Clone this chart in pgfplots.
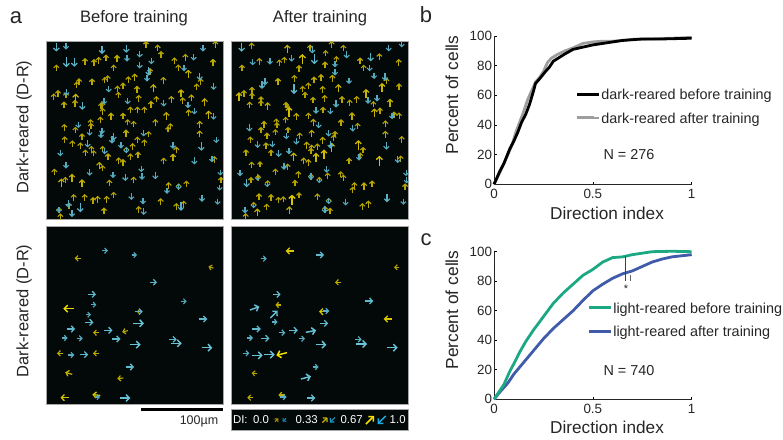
\documentclass[border=0pt]{standalone}
\usepackage{pgfplots}
\pgfplotsset{compat=1.18}
\usepackage{pgfplotstable}
\usepackage{fontspec}
\setmainfont{Liberation Sans}
\usetikzlibrary{arrows.meta}
\definecolor{panelbg}{HTML}{030909}
\definecolor{txt}{HTML}{262626}
\definecolor{grn}{HTML}{1DA884}
\definecolor{blu}{HTML}{3F5BA9}
\definecolor{ya}{HTML}{A89800}
\definecolor{yb}{HTML}{F5E000}
\definecolor{ca}{HTML}{4FA5B8}
\definecolor{cb}{HTML}{6CC7DC}
\definecolor{yc}{HTML}{B09E00}
\definecolor{yd}{HTML}{F7E100}
\definecolor{cc}{HTML}{1590BC}
\definecolor{cd}{HTML}{18AEE0}
\pgfplotsset{
 colormap={yel}{color=(ya) color=(yb)},
 colormap={cya}{color=(ca) color=(cb)},
 colormap={yelb}{color=(yc) color=(yd)},
 colormap={cyab}{color=(cc) color=(cd)},
 arrowpanel/.style={scale only axis,anchor=south west,axis background/.style={fill=panelbg},
   ticks=none,axis line style={draw=black!35,line width=0.6pt},y dir=reverse,clip=true,
   point meta min=12,point meta max=34},
 qa/.style={quiver/every arrow/.append style={line width=1.0pt+0.5pt*\pgfplotspointmetatransformed/1000,
   -{Straight Barb[length=0pt 2.3,width=0pt 4.8]},draw=mapped color}},
 cdf/.style={scale only axis,anchor=south west,width=197.7pt,xmin=0,xmax=1,ymin=0,ymax=100,
   axis lines=left,axis line style={-,line width=0.9pt,draw=black!85},
   xtick={0,0.5,1},xticklabels={0,0.5,1},ytick={0,20,40,60,80,100},
   tick align=inside,major tick length=2.5pt,tick style={line width=0.7pt,black},
   tick label style={font=\fontsize{13.4}{15}\selectfont,text=txt},
   /pgf/number format/assume math mode=true,
   xticklabel style={yshift=-1pt},yticklabel style={xshift=1.5pt},
   clip=false,
   legend cell align=left,reverse legend,
   legend image code/.code={\draw[##1,line width=3pt] (0pt,0pt) -- (16.6pt,0pt);\path (0pt,0pt) -- (22pt,0pt);},
   legend style={draw=none,fill=none,inner sep=0pt,anchor=north west,
     font=\fontsize{14.4}{16}\selectfont,text=txt,row sep=12pt,
     nodes={inner sep=0.5pt,text depth=0pt}}},
}
\pgfplotstableread{
x y l
437 133 16
472 144 16
482 163 16
645 133 16
350 176 18
317 174 16
295 181 16
281 187 16
254 184 16
522 183 17
555 172 16
638 188 18
168 204 16
340 204 16
534 203 15
564 222 20
449 214 16
403 232 18
384 239 16
322 236 16
313 241 15
236 245 16
229 255 16
275 246 17
489 241 16
601 245 16
589 260 15
459 265 20
542 280 20
410 268 17
351 267 16
368 257 15
354 285 15
173 280 16
160 290 15
197 286 15
226 295 22
224 310 17
191 315 17
415 295 16
468 298 15
452 313 17
513 298 16
547 302 16
573 294 17
613 307 20
306 315 16
302 317 15
307 334 16
390 330 16
411 330 16
432 330 16
332 349 18
368 348 16
300 360 16
271 367 15
272 378 15
382 367 15
400 372 15
465 368 17
498 348 19
565 339 17
625 345 21
598 373 17
510 379 15
503 388 15
192 382 16
225 390 15
245 410 16
193 419 16
216 431 16
240 437 16
255 458 15
273 447 15
280 460 15
323 470 17
307 447 15
377 400 18
397 440 17
411 420 16
432 428 16
445 403 15
378 450 15
390 470 16
413 465 17
355 482 16
368 488 18
297 497 18
307 505 15
490 483 16
518 472 18
528 450 16
598 402 17
642 478 16
162 516 16
183 548 20
195 540 15
215 533 19
245 550 20
327 549 16
400 540 16
505 557 17
535 560 16
558 551 15
220 592 16
253 592 16
278 601 16
292 598 17
319 598 17
340 585 15
206 617 16
481 605 17
528 619 16
550 612 16
311 632 16
415 628 16
662 540 16
176 630 14
180 650 16
}\tblaY
\pgfplotstableread{
x y l
168 142 21
197 139 16
305 150 20
378 147 19
418 163 16
453 183 16
380 176 15
608 145 16
580 172 16
198 187 24
222 187 22
418 196 16
445 215 20
551 205 15
440 235 16
598 230 18
640 260 16
198 278 16
325 268 15
382 303 16
311 305 15
246 318 19
490 310 16
563 315 16
582 334 15
640 350 15
234 375 15
268 398 15
305 393 15
302 405 15
340 410 18
335 420 18
430 400 15
648 420 15
518 437 16
603 440 20
262 432 17
180 459 16
313 453 16
362 436 16
378 450 16
197 496 16
582 483 17
635 478 15
268 518 15
338 525 15
375 532 18
423 507 15
425 530 15
465 527 17
660 518 14
658 563 14
500 572 15
393 590 16
428 603 16
605 595 17
652 605 15
204 612 17
240 623 22
215 640 18
430 635 16
542 620 20
535 560 15
176 630 14
}\tblaC
\pgfplotstableread{
x y l
80 138 16
187 147 20
255 144 16
320 133 16
355 144 15
302 160 15
103 184 16
163 188 15
178 180 15
232 178 25
334 178 15
405 183 17
463 170 16
521 188 17
51 204 16
222 205 16
300 195 17
416 204 15
208 235 16
267 240 17
288 233 17
322 235 17
159 245 18
250 257 15
233 267 15
240 285 15
293 268 16
340 265 20
471 262 21
522 260 16
484 243 16
423 280 21
42 290 21
57 280 16
81 270 15
81 287 15
108 298 15
108 310 15
74 315 16
128 318 18
264 300 15
299 295 16
351 298 16
374 308 15
395 298 16
445 313 15
495 308 19
183 315 15
192 335 24
187 322 15
214 350 18
250 348 16
294 330 15
381 348 18
448 338 20
465 332 15
507 345 17
522 347 15
182 360 15
154 365 15
117 373 17
108 390 15
156 376 15
151 397 15
189 390 15
126 408 17
76 419 15
265 367 17
348 368 17
398 378 15
481 372 17
481 403 17
530 418 16
260 400 17
224 407 15
293 421 17
330 402 15
326 413 15
245 436 18
260 445 18
277 440 16
258 453 16
320 442 22
400 435 23
414 450 15
406 467 15
138 458 15
123 437 16
63 458 16
206 470 20
273 472 22
297 463 23
236 483 17
250 488 17
372 483 16
463 483 25
80 495 16
105 493 15
151 515 15
188 500 15
220 523 16
308 527 15
347 523 15
355 533 15
527 476 15
78 540 15
100 533 15
128 550 15
210 549 16
258 530 15
283 540 15
388 557 17
383 570 16
417 558 18
441 551 16
540 560 16
102 590 17
138 592 16
160 600 15
175 598 15
201 600 26
222 586 15
277 590 16
311 603 15
125 621 16
193 630 18
97 637 19
62 650 17
412 619 16
430 612 17
86 615 15
315 632 15
300 628 16
}\tblbY
\pgfplotstableread{
x y l
50 142 22
262 150 17
365 165 17
491 145 15
530 133 15
83 187 15
135 185 15
200 176 15
268 178 24
330 193 15
437 172 20
434 204 16
447 228 15
330 217 16
480 232 18
372 243 15
120 245 18
111 256 18
207 268 23
429 302 16
456 295 16
333 312 18
273 332 16
316 333 16
501 348 16
73 384 17
281 375 16
383 385 16
184 408 16
98 434 16
142 432 16
214 424 16
311 400 16
316 435 17
161 460 18
192 453 16
484 438 18
402 472 16
518 478 18
45 519 16
177 499 17
305 509 15
65 549 20
98 533 15
127 552 15
258 530 15
283 540 15
543 519 15
545 541 15
486 595 19
535 605 15
362 607 15
311 603 15
60 630 16
86 615 15
299 628 18
}\tblbC
\pgfplotstableread{
x y l u v
232 115 18 -18 0
632 142 16 -15 -5
205 266 32 -32 0
287 338 18 -18 0
374 334 18 -17 4
179 400 18 -18 0
287 400 18 -18 0
205 460 22 -21 -6
360 475 18 -18 2
193 533 25 -25 0
288 525 25 -24 -3
417 275 15 -15 0
}\tblcY
\pgfplotstableread{
x y l u v
314 92 18 18 0
402 105 16 16 0
459 187 22 22 0
275 223 24 24 0
280 254 16 16 0
551 244 16 16 0
264 284 16 16 0
416 275 22 22 0
609 297 24 24 0
415 310 32 32 0
267 307 25 25 0
212 327 25 25 0
324 331 25 25 0
193 354 18 18 0
238 355 18 18 0
348 357 25 25 0
405 374 32 32 0
518 358 22 22 0
528 370 32 32 0
620 383 32 32 0
213 405 18 18 0
251 404 25 25 0
389 441 25 25 0
292 531 15 15 0
375 534 30 30 0
}\tblcC
\pgfplotstableread{
x y l u v
195 93 26 -26 0
515 142 16 -16 0
339 187 18 -18 0
160 255 18 -18 0
295 275 26 -26 0
489 297 26 -26 0
170 402 34 -32 8
88 460 16 -16 -2
76 533 18 -18 0
170 525 20 -20 0
}\tbldY
\pgfplotstableread{
x y l u v
116 116 18 18 0
285 105 24 24 0
155 223 24 24 0
433 243 24 24 0
89 265 30 28 -10
303 273 20 20 0
147 283 30 22 -22
149 306 18 18 0
297 310 25 25 0
95 327 25 25 0
75 354 18 18 0
121 355 25 25 0
171 338 20 20 0
206 331 25 25 0
258 334 32 31 -6
231 356 18 18 0
288 374 32 32 0
400 358 20 20 0
410 372 32 32 0
502 383 32 32 0
64 400 18 18 0
97 406 32 32 0
133 404 32 32 0
272 441 18 18 0
243 473 32 30 -8
175 531 20 20 0
258 534 26 26 0
}\tbldC
\pgfplotstableread{
x y l u v
155 600 12 10 -10
300 600 20 15 -15
435 600 34 24 -24
}\tbleY
\pgfplotstableread{
x y l u v
178 600 12 -10 10
322 600 20 -15 15
470 600 34 -24 24
}\tbleC
\begin{document}
\begin{tikzpicture}[x=1pt,y=1pt]
\path[use as bounding box] (0,0) rectangle (783,439);
% ---------- panel a: upper
\begin{axis}[arrowpanel,at={(46pt,220pt)},width=177pt,height=177.5pt,xmin=137,xmax=668,ymin=125,ymax=657]
\addplot[colormap name=yel,qa,quiver={u=0,v=-1.25*\thisrow{l}},point meta=\thisrow{l}] table[x=x,y expr=\thisrow{y}+0.625*\thisrow{l}] {\tblaY};
\addplot[colormap name=cya,qa,quiver={u=0,v=1.25*\thisrow{l}},point meta=\thisrow{l}] table[x=x,y expr=\thisrow{y}-0.625*\thisrow{l}] {\tblaC};
\end{axis}
\begin{axis}[arrowpanel,at={(231.3pt,220pt)},width=177.4pt,height=177.5pt,xmin=19,xmax=551,ymin=125,ymax=657]
\addplot[colormap name=yel,qa,quiver={u=0,v=-1.25*\thisrow{l}},point meta=\thisrow{l}] table[x=x,y expr=\thisrow{y}+0.625*\thisrow{l}] {\tblbY};
\addplot[colormap name=cya,qa,quiver={u=0,v=1.25*\thisrow{l}},point meta=\thisrow{l}] table[x=x,y expr=\thisrow{y}-0.625*\thisrow{l}] {\tblbC};
\end{axis}
% ---------- panel a: lower
\begin{axis}[arrowpanel,at={(46pt,35pt)},width=177pt,height=177.7pt,xmin=137,xmax=668,ymin=19,ymax=552]
\addplot[colormap name=yel,qa,quiver={u=\thisrow{u},v=\thisrow{v}},point meta=\thisrow{l}] table[x expr=\thisrow{x}-\thisrow{u}/2,y expr=\thisrow{y}-\thisrow{v}/2] {\tblcY};
\addplot[colormap name=cya,qa,quiver={u=\thisrow{u},v=\thisrow{v}},point meta=\thisrow{l}] table[x expr=\thisrow{x}-\thisrow{u}/2,y expr=\thisrow{y}-\thisrow{v}/2] {\tblcC};
\end{axis}
\begin{axis}[arrowpanel,at={(231.3pt,35pt)},width=177.4pt,height=177.7pt,xmin=19,xmax=551,ymin=19,ymax=552]
\addplot[colormap name=yel,qa,quiver={u=\thisrow{u},v=\thisrow{v}},point meta=\thisrow{l}] table[x expr=\thisrow{x}-\thisrow{u}/2,y expr=\thisrow{y}-\thisrow{v}/2] {\tbldY};
\addplot[colormap name=cya,qa,quiver={u=\thisrow{u},v=\thisrow{v}},point meta=\thisrow{l}] table[x expr=\thisrow{x}-\thisrow{u}/2,y expr=\thisrow{y}-\thisrow{v}/2] {\tbldC};
\end{axis}
% ---------- DI key
\begin{axis}[arrowpanel,at={(231.3pt,8.3pt)},width=176.7pt,height=21.7pt,xmin=19,xmax=549,ymin=567,ymax=632]
\addplot[colormap name=yelb,qa,quiver={u=\thisrow{u},v=\thisrow{v}},point meta=\thisrow{l}] table[x expr=\thisrow{x}-\thisrow{u}/2,y expr=\thisrow{y}-\thisrow{v}/2] {\tbleY};
\addplot[colormap name=cyab,qa,quiver={u=\thisrow{u},v=\thisrow{v}},point meta=\thisrow{l}] table[x expr=\thisrow{x}-\thisrow{u}/2,y expr=\thisrow{y}-\thisrow{v}/2] {\tbleC};
\node[text=white,font=\fontsize{11.4}{13}\selectfont,inner sep=0pt] at (axis cs:46,600) {DI:};
\node[text=white,font=\fontsize{11.4}{13}\selectfont,inner sep=0pt] at (axis cs:108,600) {0.0};
\node[text=white,font=\fontsize{11.4}{13}\selectfont,inner sep=0pt] at (axis cs:245,600) {0.33};
\node[text=white,font=\fontsize{11.4}{13}\selectfont,inner sep=0pt] at (axis cs:380,600) {0.67};
\node[text=white,font=\fontsize{11.4}{13}\selectfont,inner sep=0pt] at (axis cs:518,600) {1.0};
\end{axis}
% ---------- panel b
\begin{axis}[cdf,at={(494pt,254.7pt)},height=148.3pt,
  legend style={at={(0.413,0.645)}}]
\addplot[black!38,line width=2.8pt] coordinates {(0,0)(0.03,8)(0.06,17)(0.09,26)(0.11,35)(0.13,42)(0.15,49)(0.17,57)(0.19,63)(0.21,69)(0.23,72)(0.25,76)(0.27,82)(0.29,85)(0.32,87.5)(0.36,90)(0.40,92)(0.45,95)(0.50,96)(0.55,96.5)(0.60,96.5)(0.65,97)(0.70,97.7)(0.8,98)(1,99)};
\addlegendentry{dark-reared after training}
\addplot[black,line width=2.8pt] coordinates {(0,0)(0.03,9)(0.05,14)(0.08,24)(0.10,29)(0.12,35)(0.14,42)(0.16,47)(0.18,54)(0.20,63)(0.21,68)(0.23,71)(0.26,76)(0.28,79)(0.30,83)(0.33,85.5)(0.36,88)(0.40,91)(0.45,92.5)(0.50,94)(0.55,95)(0.60,96)(0.65,97)(0.70,97.5)(0.75,98)(0.85,98)(1,98.5)};
\addlegendentry{dark-reared before training}
\end{axis}
% ---------- panel c
\begin{axis}[cdf,at={(494pt,39.7pt)},height=147.6pt,
  legend style={at={(0.474,0.66)}}]
\addplot[blu,line width=2.8pt] coordinates {(0,0)(0.03,5)(0.07,11)(0.10,17)(0.15,25)(0.20,33)(0.25,41)(0.30,48)(0.35,54)(0.40,60)(0.45,67)(0.50,73.5)(0.55,78)(0.60,82)(0.65,85)(0.70,87)(0.75,90)(0.80,93)(0.85,95)(0.90,96.5)(1,98)};
\addlegendentry{light-reared after training}
\addplot[grn,line width=2.8pt] coordinates {(0,0)(0.02,4)(0.05,10)(0.08,19)(0.10,24)(0.13,32)(0.16,39)(0.20,47)(0.25,56)(0.30,65)(0.35,72)(0.40,78)(0.45,84)(0.50,88)(0.55,93)(0.60,96)(0.65,96.5)(0.70,98)(0.75,99)(0.80,100)(0.9,100.3)(1,100)};
\addlegendentry{light-reared before training}
\addplot[black!75,line width=0.6pt,forget plot] coordinates {(0.663,97)(0.663,80)};
\addplot[black!60,line width=0.6pt,forget plot] coordinates {(0.688,84)(0.688,80)};
\node[font=\fontsize{11}{12}\selectfont,text=txt,inner sep=0pt] at (axis cs:0.668,75) {*};
\end{axis}
% ---------- texts
\begin{scope}[every node/.style={text=txt,inner sep=0pt}]
\node[font=\fontsize{22}{24}\selectfont] at (16,421) {a};
\node[font=\fontsize{22}{24}\selectfont] at (426,424) {b};
\node[font=\fontsize{22}{24}\selectfont] at (426,199) {c};
\node[font=\fontsize{16.6}{19}\selectfont] at (134,420.5) {Before training};
\node[font=\fontsize{16.6}{19}\selectfont] at (320,420.5) {After training};
\node[font=\fontsize{16.5}{19}\selectfont,rotate=90] at (24,312) {Dark-reared (D-R)};
\node[font=\fontsize{16.5}{19}\selectfont,rotate=90] at (24,128) {Dark-reared (D-R)};
\node[font=\fontsize{12.5}{15}\selectfont] at (199,17.5) {100µm};
\node[font=\fontsize{17.4}{19}\selectfont,rotate=90] at (452,344) {Percent of cells};
\node[font=\fontsize{17.4}{19}\selectfont,rotate=90] at (452,129) {Percent of cells};
\node[font=\fontsize{17.2}{19}\selectfont] at (607,226) {Direction index};
\node[font=\fontsize{17.2}{19}\selectfont] at (607,12) {Direction index};
\node[font=\fontsize{14.4}{16}\selectfont] at (629,284) {N = 276};
\node[font=\fontsize{14.4}{16}\selectfont] at (629,68) {N = 740};
\end{scope}
\fill[black] (141.3,27.6) rectangle (222.7,31);
\end{tikzpicture}
\end{document}
